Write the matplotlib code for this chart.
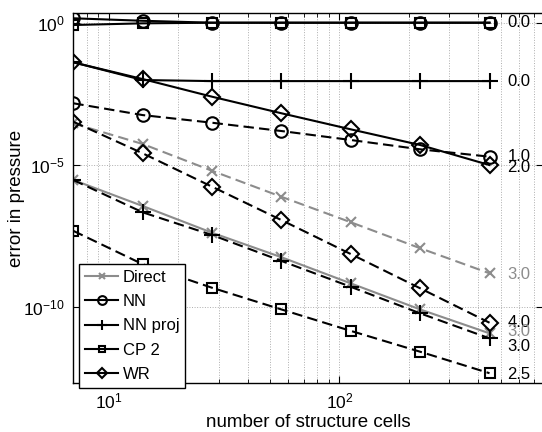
import numpy as np
import matplotlib
matplotlib.use("Agg")
import matplotlib.pyplot as plt
from matplotlib.ticker import LogLocator, NullFormatter, NullLocator

plt.rcParams['font.family'] = ['Liberation Sans', 'DejaVu Sans']
plt.rcParams['font.size'] = 12

# number of structure cells
cells = [7, 14, 28, 56, 112, 224, 448]

# error in pressure, solid and dashed variants of each method
direct_solid = [3.0e-6, 3.65e-7, 4.2e-8, 5.8e-9, 7.0e-10, 8.5e-11, 1.23e-11]
direct_dashed = [2.9e-4, 5.5e-5, 6.3e-6, 7.7e-7, 9.8e-8, 1.2e-8, 1.58e-9]
nn_solid = [1.43, 1.17, 1.0, 1.0, 1.0, 1.0, 1.0]
nn_dashed = [1.48e-3, 5.7e-4, 3.07e-4, 1.57e-4, 7.6e-5, 3.58e-5, 1.97e-5]
nnproj_solid = [0.0406, 0.0097, 0.0089, 0.0089, 0.0089, 0.0089, 0.0089]
nnproj_dashed = [2.99e-6, 2.19e-7, 3.5e-8, 4.3e-9, 5.3e-10, 6.2e-11, 8.2e-12]
cp2_solid = [0.83, 0.95, 1.0, 1.0, 1.0, 1.0, 1.0]
cp2_dashed = [4.9e-8, 3.3e-9, 4.9e-10, 8.5e-11, 1.5e-11, 2.78e-12, 4.9e-13]
wr_solid = [0.0406, 0.0105, 2.52e-3, 6.6e-4, 1.8e-4, 5.07e-5, 1.0e-5]
wr_dashed = [3.33e-4, 2.59e-5, 1.74e-6, 1.17e-7, 7.5e-9, 4.7e-10, 2.9e-11]

legend_labels = ["Direct", "NN", "NN proj", "CP 2", "WR"]

GRAY = '0.55'
dash = (0, (5, 2.5))

fig = plt.figure(figsize=(5.42, 4.32), dpi=100)
ax = fig.add_axes([0.1352, 0.1141, 0.8668, 0.8551])

common = dict(lw=1.5, mew=1.5, mfc='none')

ax.plot(cells, direct_solid, color=GRAY, marker='x', ms=7, label=legend_labels[0], **common)
ax.plot(cells, direct_dashed, color=GRAY, marker='x', ms=7, ls=dash, **common)
ax.plot(cells, nn_solid, color='k', marker='o', ms=9, label=legend_labels[1], **common)
ax.plot(cells, nn_dashed, color='k', marker='o', ms=9, ls=dash, **common)
ax.plot(cells, nnproj_solid, color='k', marker='+', ms=11, label=legend_labels[2], **common)
ax.plot(cells, nnproj_dashed, color='k', marker='+', ms=11, ls=dash, **common)
ax.plot(cells, cp2_solid, color='k', marker='s', ms=7, label=legend_labels[3], **common)
ax.plot(cells, cp2_dashed, color='k', marker='s', ms=7, ls=dash, **common)
ax.plot(cells, wr_solid, color='k', marker='D', ms=8, label=legend_labels[4], **common)
ax.plot(cells, wr_dashed, color='k', marker='D', ms=8, ls=dash, **common)

# convergence rates written next to the last point of each curve
rates = [
    (nn_solid, "0.0", 'k', 0),
    (nnproj_solid, "0.0", 'k', 0),
    (nn_dashed, "1.0", 'k', 0),
    (wr_solid, "2.0", 'k', -2),
    (direct_dashed, "3.0", GRAY, -1),
    (wr_dashed, "4.0", 'k', 0.5),
    (direct_solid, "3.0", GRAY, 1),
    (nnproj_dashed, "3.0", 'k', -6),
    (cp2_dashed, "2.5", 'k', -1),
]
for series, txt, col, dy in rates:
    ax.annotate(txt, (cells[-1], series[-1]), xytext=(13, dy), textcoords='offset points',
                ha='left', va='center', color=col, fontsize=12)

ax.set_xscale('log')
ax.set_yscale('log')
ax.set_xlim(7, 765)
ax.set_ylim(2.27e-13, 2.14)

ax.set_yticks([1e-10, 1e-5, 1e0])
ax.yaxis.set_minor_locator(NullLocator())
ax.xaxis.set_minor_locator(LogLocator(base=10, subs=np.arange(2, 10), numticks=20))
ax.xaxis.set_minor_formatter(NullFormatter())

ax.grid(True, which='major', axis='both', ls=':', color='0.68', lw=0.7)
ax.grid(True, which='minor', axis='x', ls=':', color='0.68', lw=0.7)
ax.tick_params(which='both', direction='in', top=True, right=True)
ax.tick_params(which='major', length=5, pad=6, labelsize=12.5)
ax.tick_params(which='minor', length=3)
for s in ax.spines.values():
    s.set_linewidth(1.0)

ax.set_xlabel("number of structure cells", fontsize=13.5, labelpad=2)
ax.set_ylabel("error in pressure", fontsize=13.5)
ax.yaxis.set_label_coords(-0.1017, 0.5)

leg = ax.legend(loc='upper left', bbox_to_anchor=(79.3 / 542, 1 - 264.3 / 432),
                bbox_transform=fig.transFigure, borderaxespad=0, fancybox=False,
                framealpha=1, edgecolor='k', handlelength=2.0, handletextpad=0.25,
                labelspacing=0.55, markerscale=0.7, borderpad=0.35, fontsize=12)
leg.get_frame().set_linewidth(1.0)

fig.savefig("out.png", dpi=100)
